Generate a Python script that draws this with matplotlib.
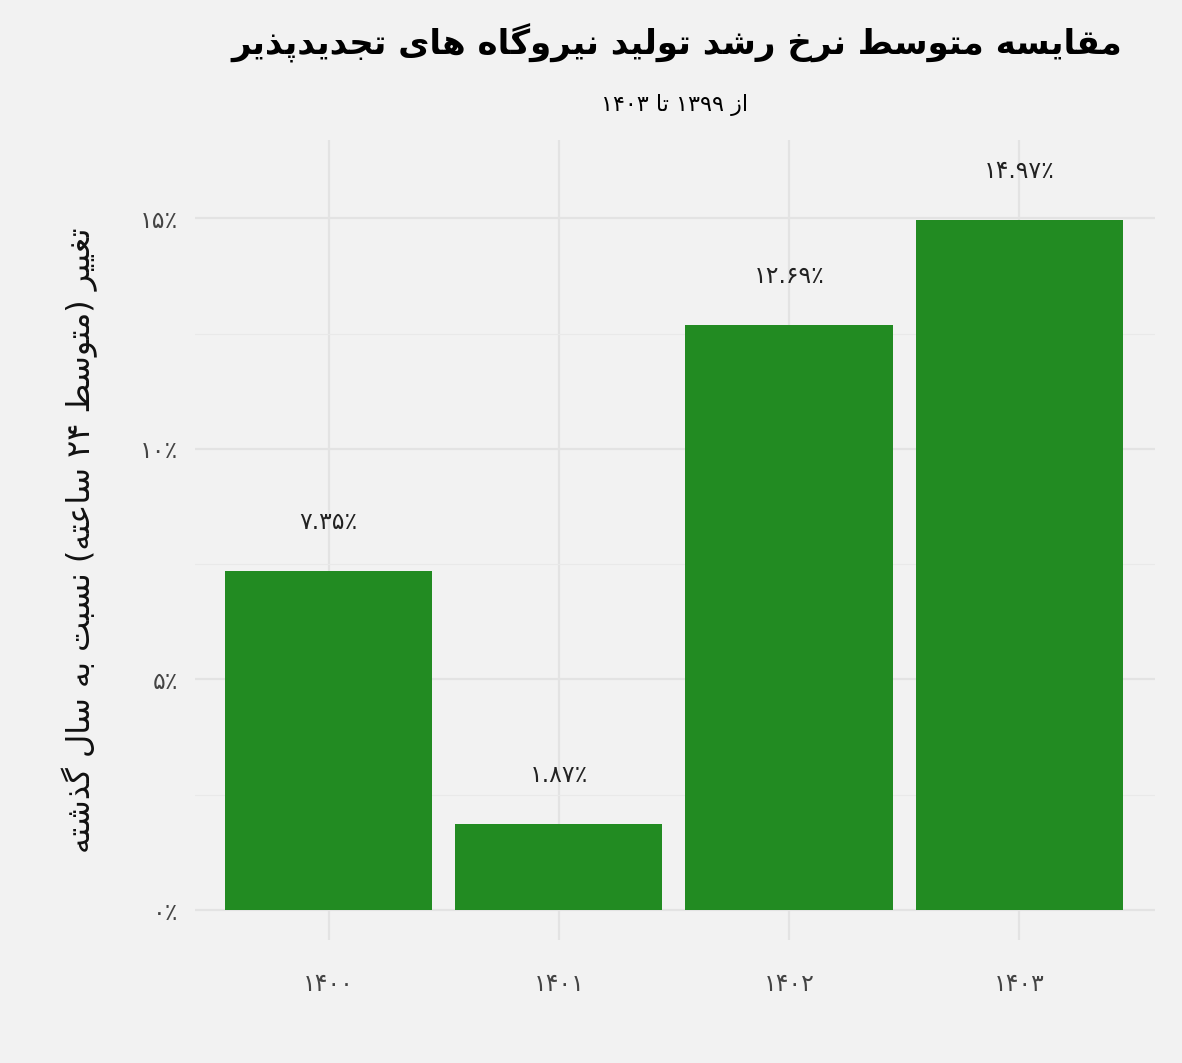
import matplotlib
matplotlib.use("Agg")
import matplotlib.pyplot as plt

years = ["۱۴۰۰", "۱۴۰۱", "۱۴۰۲", "۱۴۰۳"]
values = [7.35, 1.87, 12.69, 14.97]
value_labels = ["۷.۳۵٪", "۱.۸۷٪", "۱۲.۶۹٪", "۱۴.۹۷٪"]
yticks = [0, 5, 10, 15]
ytick_labels = ["۰٪", "۵٪", "۱۰٪", "۱۵٪"]
title = "مقایسه متوسط نرخ رشد تولید نیروگاه های تجدیدپذیر"
subtitle = "از ۱۳۹۹ تا ۱۴۰۳"
ylabel = "تغییر (متوسط ۲۴ ساعته) نسبت به سال گذشته"

# Minimal Arabic/Persian shaping (isolated, final, initial, medial)
F = {
 'ا': (0xFE8D, 0xFE8E, None, None), 'آ': (0xFE81, 0xFE82, None, None),
 'ب': (0xFE8F, 0xFE90, 0xFE91, 0xFE92), 'ت': (0xFE95, 0xFE96, 0xFE97, 0xFE98),
 'ث': (0xFE99, 0xFE9A, 0xFE9B, 0xFE9C), 'ج': (0xFE9D, 0xFE9E, 0xFE9F, 0xFEA0),
 'ح': (0xFEA1, 0xFEA2, 0xFEA3, 0xFEA4), 'خ': (0xFEA5, 0xFEA6, 0xFEA7, 0xFEA8),
 'د': (0xFEA9, 0xFEAA, None, None), 'ذ': (0xFEAB, 0xFEAC, None, None),
 'ر': (0xFEAD, 0xFEAE, None, None), 'ز': (0xFEAF, 0xFEB0, None, None),
 'ژ': (0xFB8A, 0xFB8B, None, None),
 'س': (0xFEB1, 0xFEB2, 0xFEB3, 0xFEB4), 'ش': (0xFEB5, 0xFEB6, 0xFEB7, 0xFEB8),
 'ص': (0xFEB9, 0xFEBA, 0xFEBB, 0xFEBC), 'ض': (0xFEBD, 0xFEBE, 0xFEBF, 0xFEC0),
 'ط': (0xFEC1, 0xFEC2, 0xFEC3, 0xFEC4), 'ظ': (0xFEC5, 0xFEC6, 0xFEC7, 0xFEC8),
 'ع': (0xFEC9, 0xFECA, 0xFECB, 0xFECC), 'غ': (0xFECD, 0xFECE, 0xFECF, 0xFED0),
 'ف': (0xFED1, 0xFED2, 0xFED3, 0xFED4), 'ق': (0xFED5, 0xFED6, 0xFED7, 0xFED8),
 'ل': (0xFEDD, 0xFEDE, 0xFEDF, 0xFEE0), 'م': (0xFEE1, 0xFEE2, 0xFEE3, 0xFEE4),
 'ن': (0xFEE5, 0xFEE6, 0xFEE7, 0xFEE8), 'ه': (0xFEE9, 0xFEEA, 0xFEEB, 0xFEEC),
 'و': (0xFEED, 0xFEEE, None, None),
 'ی': (0xFBFC, 0xFBFD, 0xFBFE, 0xFBFF), 'ي': (0xFEF1, 0xFEF2, 0xFEF3, 0xFEF4),
 'پ': (0xFB56, 0xFB57, 0xFB58, 0xFB59), 'چ': (0xFB7A, 0xFB7B, 0xFB7C, 0xFB7D),
 'ک': (0xFB8E, 0xFB8F, 0xFB90, 0xFB91), 'گ': (0xFB92, 0xFB93, 0xFB94, 0xFB95),
}

def shape(s):
    out = []
    for i, c in enumerate(s):
        if c not in F:
            out.append(c); continue
        prev = s[i-1] if i > 0 else ''
        nxt = s[i+1] if i + 1 < len(s) else ''
        jp = prev in F and F[prev][2] is not None
        jn = nxt in F and F[c][2] is not None
        iso, fin, ini, med = F[c]
        if jp and jn: g = med
        elif jp: g = fin
        elif jn: g = ini
        else: g = iso
        out.append(chr(g))
    return ''.join(out)

def visual(s):
    s = shape(s)
    runs, cur = [], ''
    for c in s:
        isd = '\u06F0' <= c <= '\u06F9' or c in '.٪'
        if isd:
            cur += c
        else:
            if cur: runs.append(cur); cur = ''
            runs.append({'(': ')', ')': '('}.get(c, c))
    if cur: runs.append(cur)
    return ''.join(reversed(runs))

plt.rcParams['font.family'] = ['DejaVu Sans']
bg = '#f2f2f2'
fig = plt.figure(figsize=(11.82, 10.63), dpi=100, facecolor=bg)
ax = fig.add_axes([195/1182, 1 - 940/1063, 960/1182, 800/1063], facecolor=bg)
x = list(range(len(years)))
ax.bar(x, values, width=0.9, color='#228B22', zorder=3)
for xi, v, lab in zip(x, values, value_labels):
    ax.text(xi, v + 0.8, lab, ha='center', va='bottom', fontsize=17, color='#222222')
ax.set_xlim(-0.58, 3.59)
ax.set_ylim(-0.65, 16.7)
ax.set_yticks(yticks)
ax.set_yticklabels(ytick_labels, fontsize=17, color='#444444')
ax.set_yticks([2.5, 7.5, 12.5], minor=True)
ax.set_xticks(x)
ax.set_xticklabels(years, fontsize=17, color='#444444')
ax.grid(True, which='major', color='#e3e3e3', lw=1.6, zorder=0)
ax.grid(True, which='minor', axis='y', color='#e9e9e9', lw=0.8, zorder=0)
ax.tick_params(which='both', length=0)
ax.tick_params(axis='y', pad=12)
ax.tick_params(axis='x', pad=23)
for sp in ax.spines.values():
    sp.set_visible(False)
ax.set_ylabel(visual(ylabel), fontsize=23, labelpad=30, color='#111111')
fig.text(1122/1182, 1 - 43/1063, visual(title), ha='right', va='center', fontsize=24.5, fontweight='bold')
fig.text(675/1182, 1 - 105/1063, visual(subtitle), ha='center', va='center', fontsize=16)
fig.savefig('out.png', dpi=100, facecolor=bg)
